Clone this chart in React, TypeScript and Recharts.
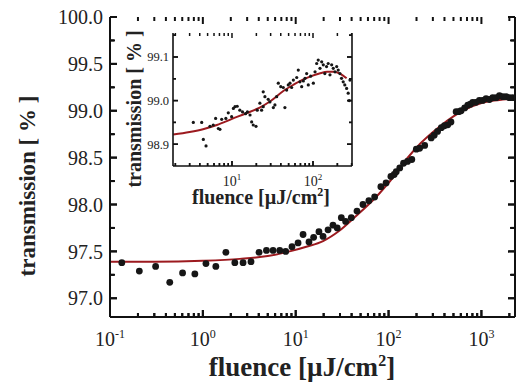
import React from 'react';
import { ComposedChart, Scatter, Line, XAxis, YAxis } from 'recharts';

// main panel: measured transmission vs fluence
const fluence = [
  0.134, 0.207, 0.31, 0.44, 0.605, 0.82, 1.08, 1.38, 1.77, 2.21, 2.71, 3.3, 4.03, 4.84, 5.7, 6.73, 7.8,
  9.12, 10.6, 12.0, 13.9, 15.6, 17.8, 19.7, 22.3, 25.2, 28, 31, 34.5, 39.7, 45.7, 53, 61.4, 70.8, 82.6,
  94, 106, 115, 121, 132, 145, 160, 178, 199, 216, 245, 288, 310, 337, 370, 400, 434, 470, 534, 570, 604,
  660, 713, 760, 805, 870, 950, 1030, 1122, 1220, 1324, 1440, 1563, 1700, 1845, 2000, 2175,
];
const transmission = [
  97.38, 97.29, 97.34, 97.17, 97.27, 97.26, 97.37, 97.34, 97.49, 97.38, 97.38, 97.39, 97.49, 97.51, 97.51,
  97.51, 97.5, 97.55, 97.59, 97.68, 97.6, 97.65, 97.71, 97.66, 97.73, 97.78, 97.75, 97.86, 97.82, 97.86,
  97.93, 98.0, 98.04, 98.08, 98.19, 98.23, 98.3, 98.32, 98.35, 98.39, 98.44, 98.46, 98.48, 98.59, 98.6,
  98.63, 98.71, 98.74, 98.78, 98.82, 98.84, 98.85, 98.88, 98.99, 98.99, 99.0, 99.03, 99.06, 99.07, 99.09,
  99.09, 99.11, 99.11, 99.13, 99.12, 99.14, 99.14, 99.16, 99.15, 99.15, 99.14, 99.14,
];
const fitFluence = [0.1, 0.3, 1, 2.5, 5, 8.6, 13, 19.7, 29.5, 45, 67, 80, 100, 155, 220, 353, 500, 806, 1200, 1700, 2300];
const fitTransmission = [
  97.39, 97.39, 97.4, 97.42, 97.45, 97.5, 97.55, 97.61, 97.72, 97.88, 98.04, 98.12, 98.23, 98.48, 98.65,
  98.83, 98.94, 99.05, 99.1, 99.12, 99.13,
];

// inset: zoom on the high-fluence region
const insetFluence = [
  3.33, 4.23, 4.43, 4.78, 5.35, 5.87, 6.28, 6.78, 7.1, 7.46, 8.4, 9.0, 9.9, 10.4, 10.9, 11.6, 12.5, 13.5,
  14.7, 15.5, 16.7, 17.5, 18.3, 19.8, 20.5, 22.1, 23.2, 24.3, 24.3, 25.5, 28, 29.4, 32.4, 33.9, 35.6, 37.3,
  40, 43, 45, 47.3, 49.5, 52, 54.5, 57.2, 63, 65.8, 69, 72.5, 76, 79.7, 83.5, 87.5, 93.6, 101, 106, 111, 116,
  122, 128, 134, 140, 147, 154, 162, 170, 178, 187, 196, 205, 215, 225, 236, 247, 260, 272, 280, 286,
];
const insetTransmission = [
  98.95, 98.95, 98.911, 98.896, 98.941, 98.944, 98.959, 98.936, 98.934, 98.957, 98.959, 98.972, 98.963,
  98.982, 98.986, 98.987, 98.978, 98.974, 98.97, 98.974, 98.967, 98.951, 98.944, 98.941, 98.978, 98.994,
  98.978, 98.986, 99.02, 99.009, 99.003, 98.997, 98.984, 98.99, 99.009, 99.04, 99.032, 99.03, 98.984,
  99.024, 99.036, 99.04, 99.03, 99.047, 99.053, 99.07, 99.043, 99.032, 99.045, 99.051, 99.062, 99.036,
  99.056, 99.04, 99.066, 99.085, 99.093, 99.074, 99.089, 99.082, 99.062, 99.078, 99.085, 99.059, 99.082,
  99.074, 99.066, 99.078, 99.07, 99.062, 99.051, 99.043, 99.036, 99.028, 99.017, 99.0, 99.047,
];
const insetFitFluence = [1.88, 3, 4.5, 6.5, 10, 15, 22, 30, 43, 57, 75, 95, 120, 150, 180, 215, 260];
const insetFitTransmission = [
  98.922, 98.928, 98.935, 98.944, 98.958, 98.971, 98.984, 98.999, 99.022, 99.036, 99.048, 99.056, 99.062,
  99.066, 99.066, 99.062, 99.051,
];

const mainXMajor = [0.1, 1, 10, 100, 1000];
const mainXMinor = [0.2, 0.3, 0.4, 0.5, 0.6, 0.7, 0.8, 0.9, 2, 3, 4, 5, 6, 7, 8, 9, 20, 30, 40, 50, 60, 70, 80, 90,
  200, 300, 400, 500, 600, 700, 800, 900, 2000];
const mainYMajor = [97.0, 97.5, 98.0, 98.5, 99.0, 99.5, 100.0];
const mainYMinor = [97.25, 97.75, 98.25, 98.75, 99.25, 99.75];
const insetXMajor = [10, 100];
const insetXMinor = [2, 3, 4, 5, 6, 7, 8, 9, 20, 30, 40, 50, 60, 70, 80, 90, 200, 300];
const insetYMajor = [98.9, 99.0, 99.1];
const insetYMinor = [98.95, 99.05, 99.15];

const zip = (xs: number[], ys: number[]) => xs.map((x, i) => ({ x, y: ys[i] }));
const mainPoints = zip(fluence, transmission);
const mainFit = zip(fitFluence, fitTransmission);
const insetPoints = zip(insetFluence, insetTransmission);
const insetFit = zip(insetFitFluence, insetFitTransmission);

const RED = '#9c1a1f';
const INK = '#161616';
const SERIF = '"Liberation Serif", "DejaVu Serif", serif';

const isIn = (v: number, list: number[]) => list.some((m) => Math.abs(m - v) < 1e-6 * Math.max(1, Math.abs(m)));

// frame tick marks as scatter points sitting on the frame edges
function frameMarks(xd: number[], yd: number[], xMaj: number[], xMin: number[], yMaj: number[], yMin: number[], big: number, small: number) {
  const out: any[] = [];
  xMaj.forEach((v) => out.push({ x: v, y: yd[1], dir: 'down', len: big }, { x: v, y: yd[0], dir: 'up', len: big }));
  xMin.forEach((v) => out.push({ x: v, y: yd[1], dir: 'down', len: small }, { x: v, y: yd[0], dir: 'up', len: small }));
  yMaj.forEach((v) => out.push({ x: xd[0], y: v, dir: 'right', len: big }, { x: xd[1], y: v, dir: 'left', len: big }));
  yMin.forEach((v) => out.push({ x: xd[0], y: v, dir: 'right', len: small }, { x: xd[1], y: v, dir: 'left', len: small }));
  return out;
}

const markPath = (dir: string, x: number, y: number, len: number) => {
  if (dir === 'up') return `M${x},${y}V${y - len}`;
  if (dir === 'down') return `M${x},${y}V${y + len}`;
  if (dir === 'right') return `M${x},${y}H${x + len}`;
  return `M${x},${y}H${x - len}`;
};

const markShape = (w: number) => (p: any) => {
  const d = p.payload ?? p;
  return <path d={markPath(d.dir, p.cx, p.cy, d.len)} stroke="#111" strokeWidth={w} fill="none" />;
};

interface TickOpts {
  side: 'bottom' | 'top' | 'left' | 'right';
  majors: number[];
  big: number;
  small: number;
  w: number;
  label?: 'log' | 'num';
  fontSize?: number;
  supSize?: number;
  gap?: number;
}

function makeTick(o: TickOpts) {
  const dir = { bottom: 'up', top: 'down', left: 'right', right: 'left' }[o.side];
  return (props: any) => {
    const x = Number(props.x);
    const y = Number(props.y);
    const v = Number(props.payload.value);
    const major = isIn(v, o.majors);
    const len = major ? o.big : o.small;
    let text = null;
    if (major && o.label === 'log') {
      const fs = o.fontSize ?? 20;
      text = (
        <text x={x} y={y + (o.gap ?? 20)} textAnchor="middle" fontFamily={SERIF} fontSize={fs} fill="#222">
          <tspan>10</tspan>
          <tspan dy={-fs * 0.42} fontSize={o.supSize}>{Math.round(Math.log10(v))}</tspan>
        </text>
      );
    } else if (major && o.label === 'num') {
      text = (
        <text x={x - (o.gap ?? 7)} y={y} dy="0.36em" textAnchor="end" fontFamily={SERIF} fontSize={o.fontSize} fill="#222">
          {v.toFixed(1)}
        </text>
      );
    }
    return (
      <g>
        <path d={markPath(dir, x, y, len)} stroke="#111" strokeWidth={o.w} fill="none" />
        {text}
      </g>
    );
  };
}

const dot = (r: number) => (p: any) => <circle cx={p.cx} cy={p.cy} r={r} fill={INK} />;

const ax = (w: number) => ({
  tickSize: 0,
  tickMargin: 0,
  tickLine: false,
  interval: 0 as const,
  allowDataOverflow: true,
  axisLine: { stroke: '#111', strokeWidth: w },
});

function MainChart() {
  const xd: [number, number] = [0.1, 2300];
  const yd: [number, number] = [96.8, 100];
  const xt = [...mainXMajor, ...mainXMinor];
  const yt = [...mainYMajor, ...mainYMinor];
  const t = { majors: mainXMajor, big: 7, small: 4, w: 2 };
  const ty = { majors: mainYMajor, big: 7, small: 5, w: 2 };
  const marks = frameMarks(xd, yd, mainXMajor, mainXMinor, mainYMajor, mainYMinor, 7, 4);
  return (
    <ComposedChart width={518} height={385} margin={{ top: 17, right: 0, bottom: 0, left: 0 }}>
      <XAxis xAxisId="b" dataKey="x" type="number" scale="log" domain={xd} ticks={xt} height={68}
        tick={makeTick({ ...t, side: 'bottom', label: 'log', fontSize: 20, supSize: 12, gap: 29 })} {...ax(2)} />
      <XAxis xAxisId="t" orientation="top" dataKey="x" type="number" scale="log" domain={xd} ticks={xt} height={0}
        tick={makeTick({ ...t, side: 'top' })} {...ax(2)} />
      <YAxis yAxisId="l" dataKey="y" type="number" domain={yd} ticks={yt} width={110}
        tick={makeTick({ ...ty, side: 'left', label: 'num', fontSize: 20, gap: 7 })} {...ax(2)} />
      <YAxis yAxisId="r" orientation="right" dataKey="y" type="number" domain={yd} ticks={yt} width={3}
        tick={makeTick({ ...ty, side: 'right' })} {...ax(2)} />
      <Scatter xAxisId="b" yAxisId="l" data={marks} dataKey="y" shape={markShape(2)} isAnimationActive={false} />
      <Scatter xAxisId="b" yAxisId="l" data={mainPoints} dataKey="y" shape={dot(3.4)} isAnimationActive={false} />
      <Line xAxisId="b" yAxisId="l" data={mainFit} dataKey="y" type="monotone" stroke={RED} strokeWidth={2}
        dot={false} activeDot={false} isAnimationActive={false} />
    </ComposedChart>
  );
}

function InsetChart() {
  const xd: [number, number] = [1.87, 303];
  const yd: [number, number] = [98.85, 99.155];
  const xt = [...insetXMajor, ...insetXMinor];
  const yt = [...insetYMajor, ...insetYMinor];
  const t = { majors: insetXMajor, big: 5, small: 3, w: 1.5 };
  const ty = { majors: insetYMajor, big: 5, small: 3, w: 1.5 };
  const marks = frameMarks(xd, yd, insetXMajor, insetXMinor, insetYMajor, insetYMinor, 5, 3);
  return (
    <ComposedChart width={250} height={185} margin={{ top: 11, right: 0, bottom: 0, left: 0 }}>
      <XAxis xAxisId="b" dataKey="x" type="number" scale="log" domain={xd} ticks={xt} height={41}
        tick={makeTick({ ...t, side: 'bottom', label: 'log', fontSize: 14, supSize: 9, gap: 20 })} {...ax(1.6)} />
      <XAxis xAxisId="t" orientation="top" dataKey="x" type="number" scale="log" domain={xd} ticks={xt} height={0}
        tick={makeTick({ ...t, side: 'top' })} {...ax(1.6)} />
      <YAxis yAxisId="l" dataKey="y" type="number" domain={yd} ticks={yt} width={63}
        tick={makeTick({ ...ty, side: 'left', label: 'num', fontSize: 12.5, gap: 4 })} {...ax(1.6)} />
      <YAxis yAxisId="r" orientation="right" dataKey="y" type="number" domain={yd} ticks={yt} width={8}
        tick={makeTick({ ...ty, side: 'right' })} {...ax(1.6)} />
      <Scatter xAxisId="b" yAxisId="l" data={marks} dataKey="y" shape={markShape(1.5)} isAnimationActive={false} />
      <Scatter xAxisId="b" yAxisId="l" data={insetPoints} dataKey="y" shape={dot(1.6)} isAnimationActive={false} />
      <Line xAxisId="b" yAxisId="l" data={insetFit} dataKey="y" type="monotone" stroke={RED} strokeWidth={2}
        dot={false} activeDot={false} isAnimationActive={false} />
    </ComposedChart>
  );
}

export default function App() {
  return (
    <div style={{ position: 'absolute', left: 0, top: 0, width: 518, height: 385, background: '#fff' }}>
      <div style={{ position: 'absolute', left: 0, top: 0 }}>
        <MainChart />
      </div>
      <div style={{ position: 'absolute', left: 173, top: 33, width: 179, height: 133, background: '#fff' }} />
      <div style={{ position: 'absolute', left: 110, top: 22 }}>
        <InsetChart />
      </div>
      <svg width={518} height={385} style={{ position: 'absolute', left: 0, top: 0, pointerEvents: 'none' }}>
        <g fontFamily={SERIF} fontWeight="bold" fill="#222">
          <text x={302} y={376} textAnchor="middle" fontSize={27}>
            fluence [µJ/cm<tspan dy={-10} fontSize={16}>2</tspan><tspan dy={10}>]</tspan>
          </text>
          <text transform="translate(35,186) rotate(-90)" textAnchor="middle" fontSize={23}>transmission [ % ]</text>
          <text x={261} y={204} textAnchor="middle" fontSize={20}>
            fluence [µJ/cm<tspan dy={-8} fontSize={12}>2</tspan><tspan dy={8}>]</tspan>
          </text>
          <text transform="translate(141,109) rotate(-90)" textAnchor="middle" fontSize={20}>transmission [ % ]</text>
        </g>
      </svg>
    </div>
  );
}
